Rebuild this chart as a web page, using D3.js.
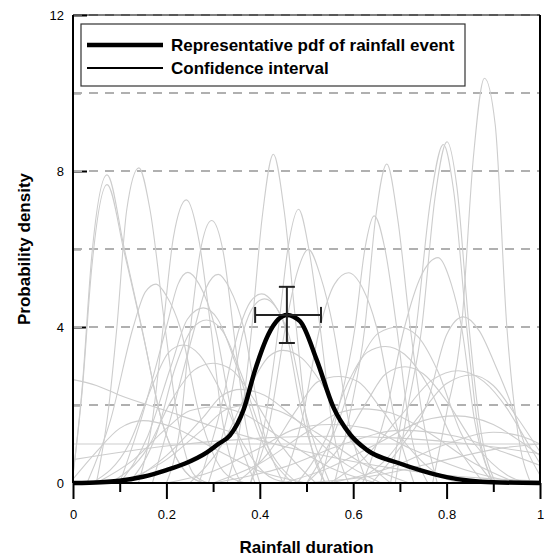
<!DOCTYPE html>
<meta charset="utf-8">
<style>
  body { margin: 0; background: #fff; }
  text { font-family: "Liberation Sans", Arial, sans-serif; }
</style>
<body>
<script src="https://d3js.org/d3.v7.min.js"></script>
<script>

// tick values
var yMajor = [0, 4, 8, 12],
    yMinor = [2, 6, 10],
    yGrid = [2, 4, 6, 8, 10, 12],
    xMajor = [0, 0.2, 0.4, 0.6, 0.8, 1],
    xMinor = [0.1, 0.3, 0.5, 0.7, 0.9];

var legendLabels = ["Representative pdf of rainfall event", "Confidence interval"];

// representative pdf (thick black line)
var representativePdf = [
  [0, 0], [0.06, 0.02], [0.1, 0.06], [0.15, 0.16], [0.2, 0.33], [0.24, 0.5],
  [0.286, 0.78], [0.311, 1.0], [0.336, 1.22], [0.365, 1.87], [0.39, 2.9],
  [0.418, 3.8], [0.44, 4.2], [0.458, 4.31], [0.486, 4.15], [0.522, 3.15],
  [0.557, 1.96], [0.593, 1.25], [0.629, 0.85], [0.7, 0.5], [0.743, 0.33],
  [0.8, 0.15], [0.85, 0.06], [0.9, 0.02], [1, 0]
];

// confidence interval cross: centre, x range, y range
var ciCentre = [0.458, 4.31],
    ciX = [0.39, 0.531],
    ciY = [3.59, 5.03];

// the individual event pdfs (grey lines)
var eventPdfs = [
  [[0,0.2],[0.02,2.5],[0.04,5.8],[0.073,7.9],[0.11,6.0],[0.147,4.0],[0.19,1.6],[0.24,0.3],[0.28,0]],
  [[0,0.2],[0.02,2.4],[0.04,5.5],[0.073,7.65],[0.11,5.9],[0.15,3.8],[0.19,1.6],[0.24,0.3],[0.28,0]],
  [[0.05,0],[0.075,1.8],[0.094,4.0],[0.115,7.0],[0.141,8.08],[0.165,7.0],[0.197,4.0],[0.225,1.6],[0.26,0.2],[0.29,0]],
  [[0.14,0],[0.17,1.6],[0.193,4.0],[0.215,6.3],[0.243,7.26],[0.27,6.2],[0.295,4.0],[0.32,1.6],[0.36,0]],
  [[0.2,0],[0.23,1.5],[0.25,3.8],[0.272,5.9],[0.297,6.73],[0.322,5.9],[0.345,3.8],[0.37,1.5],[0.4,0]],
  [[0.03,0],[0.08,1.6],[0.129,4.0],[0.155,4.9],[0.178,5.1],[0.2,4.8],[0.229,4.0],[0.27,1.8],[0.33,0.2],[0.37,0]],
  [[0.1,0],[0.15,1.8],[0.2,4.0],[0.225,5.1],[0.246,5.4],[0.27,5.1],[0.304,4.0],[0.34,1.8],[0.39,0]],
  [[0.17,0],[0.21,1.7],[0.261,4.0],[0.285,5.0],[0.311,5.35],[0.335,5.0],[0.365,4.0],[0.4,1.7],[0.45,0]],
  [[0.33,0],[0.36,1.6],[0.383,4.0],[0.405,6.8],[0.429,8.43],[0.452,7.0],[0.478,4.0],[0.5,1.6],[0.54,0]],
  [[0.38,0],[0.41,1.5],[0.44,4.0],[0.46,6.0],[0.483,7.02],[0.505,6.0],[0.529,4.0],[0.555,1.5],[0.59,0]],
  [[0.38,0],[0.42,1.5],[0.455,4.0],[0.48,5.4],[0.504,5.99],[0.53,5.3],[0.557,4.0],[0.59,1.6],[0.63,0]],
  [[0.45,0],[0.49,1.6],[0.529,4.0],[0.56,5.1],[0.59,5.39],[0.62,5.0],[0.65,4.0],[0.69,1.6],[0.73,0]],
  [[0.53,0],[0.56,1.5],[0.604,4.0],[0.625,6.0],[0.645,6.85],[0.668,6.0],[0.693,4.0],[0.72,1.5],[0.76,0]],
  [[0.56,0],[0.59,1.6],[0.625,4.0],[0.648,6.8],[0.672,8.18],[0.695,6.8],[0.722,4.0],[0.75,1.6],[0.78,0]],
  [[0.62,0],[0.67,1.8],[0.71,4.0],[0.745,5.3],[0.782,5.78],[0.81,5.1],[0.832,4.0],[0.86,1.6],[0.9,0]],
  [[0.68,0],[0.705,1.8],[0.735,4.0],[0.765,7.2],[0.793,8.68],[0.815,7.5],[0.843,4.0],[0.865,1.6],[0.9,0]],
  [[0.69,0],[0.715,1.8],[0.747,4.0],[0.775,7.3],[0.801,8.75],[0.822,7.6],[0.848,4.0],[0.87,1.6],[0.905,0]],
  [[0.77,0],[0.8,1.8],[0.832,4.0],[0.857,8.3],[0.881,10.38],[0.904,9.2],[0.929,4.0],[0.95,1.5],[0.98,0]],
  [[0.1,0],[0.16,1.2],[0.21,3.0],[0.245,4.2],[0.279,4.49],[0.31,4.2],[0.35,3.0],[0.4,1.2],[0.47,0]],
  [[0.12,0],[0.18,1.3],[0.22,3.0],[0.255,3.95],[0.286,4.18],[0.32,3.9],[0.36,2.8],[0.41,1.1],[0.48,0]],
  [[0.27,0],[0.31,1.6],[0.357,4.0],[0.38,4.65],[0.404,4.85],[0.43,4.6],[0.454,4.0],[0.49,1.8],[0.54,0]],
  [[0.29,0],[0.33,1.7],[0.365,3.9],[0.388,4.55],[0.41,4.72],[0.435,4.5],[0.462,3.8],[0.5,1.7],[0.55,0]],
  [[0.04,0],[0.12,1.0],[0.17,2.5],[0.205,3.35],[0.236,3.54],[0.27,3.3],[0.31,2.5],[0.36,1.1],[0.43,0.1],[0.47,0]],
  [[0.08,0],[0.16,0.9],[0.21,2.1],[0.26,2.9],[0.3,3.07],[0.34,2.9],[0.39,2.1],[0.45,0.9],[0.52,0]],
  [[0.5,0],[0.56,1.3],[0.61,3.0],[0.655,3.85],[0.697,4.0],[0.735,3.8],[0.78,2.9],[0.83,1.3],[0.9,0]],
  [[0.48,0],[0.54,1.1],[0.59,2.6],[0.63,3.35],[0.669,3.5],[0.71,3.3],[0.76,2.5],[0.81,1.2],[0.88,0]],
  [[0.64,0],[0.7,0.9],[0.757,2.0],[0.8,3.8],[0.836,4.26],[0.87,3.9],[0.905,3.0],[0.939,2.0],[0.97,0.9],[1,0.2]],
  [[0.55,0],[0.62,0.6],[0.7,1.7],[0.77,2.65],[0.825,2.88],[0.88,2.6],[0.93,1.9],[0.97,1.1],[1,0.5]],
  [[0.6,0],[0.67,0.6],[0.74,1.7],[0.8,2.55],[0.854,2.77],[0.9,2.5],[0.95,1.7],[1,0.8]],
  [[0.5,0],[0.57,0.9],[0.63,2.1],[0.67,2.8],[0.711,2.98],[0.75,2.8],[0.8,2.1],[0.86,1.0],[0.93,0.2],[0.97,0]],
  [[0.35,0],[0.42,0.8],[0.48,1.9],[0.525,2.6],[0.569,2.73],[0.61,2.6],[0.66,1.9],[0.72,0.9],[0.8,0.1],[0.84,0]],
  [[0.45,0],[0.55,0.4],[0.65,1.0],[0.75,1.6],[0.82,1.72],[0.9,1.5],[0.96,1.05],[1,0.7]],
  [[0,2.65],[0.05,2.5],[0.1,2.25],[0.2,1.85],[0.3,1.45],[0.4,1.1],[0.5,0.8],[0.6,0.55],[0.7,0.35],[0.8,0.2],[1,0.05]],
  [[0,1],[1,1]],
  [[0,0.6],[0.2,0.95],[0.4,1.15],[0.55,1.2],[0.7,1.15],[0.85,1.0],[1,0.75]],
  [[0.25,0],[0.32,1.0],[0.38,2.5],[0.42,3.25],[0.45,3.4],[0.49,3.2],[0.54,2.4],[0.6,1.0],[0.68,0]],
  [[0.1,0],[0.2,0.6],[0.28,1.4],[0.33,1.9],[0.38,2.0],[0.44,1.85],[0.52,1.3],[0.62,0.5],[0.72,0]],
  [[0,0.1],[0.05,0.8],[0.1,1.4],[0.15,1.6],[0.21,1.45],[0.3,0.9],[0.4,0.3],[0.5,0]],
  [[0.3,0],[0.4,0.5],[0.5,1.3],[0.57,1.8],[0.62,1.9],[0.68,1.8],[0.76,1.3],[0.86,0.5],[0.95,0]],
  [[0.2,0],[0.3,0.3],[0.4,0.9],[0.48,1.4],[0.55,1.5],[0.63,1.4],[0.72,0.9],[0.85,0.3],[0.95,0]],
  [[0.05,0],[0.13,0.6],[0.2,1.4],[0.25,1.85],[0.3,1.95],[0.36,1.8],[0.44,1.2],[0.55,0.4],[0.65,0]],
  [[0.3,0],[0.45,0.4],[0.58,1.0],[0.7,1.35],[0.82,1.2],[0.92,0.8],[1,0.45]],
  [[0.55,0],[0.68,0.4],[0.8,1.0],[0.9,1.3],[0.96,1.2],[1,1.0]],
  [[0.5,0],[0.65,0.2],[0.8,0.6],[0.92,0.9],[1,1.0]],
  [[0.12,0],[0.2,0.7],[0.28,1.7],[0.32,2.25],[0.36,2.4],[0.41,2.25],[0.48,1.6],[0.57,0.6],[0.66,0]]
];

var margin = {top: 15, right: 4, bottom: 74, left: 73},
    width = 544 - margin.left - margin.right,
    height = 557 - margin.top - margin.bottom;

var x = d3.scaleLinear().domain([0, 1]).range([0, width]);
var y = d3.scaleLinear().domain([0, 12]).range([height, 0]);

var svg = d3.select("body").append("svg")
    .attr("width", 544)
    .attr("height", 557)
  .append("g")
    .attr("transform", "translate(" + margin.left + "," + margin.top + ")");

svg.append("clipPath").attr("id", "clip")
  .append("rect").attr("width", width).attr("height", height);

// y ticks drawn inward, minor shorter
svg.append("g")
    .call(d3.axisRight(y).tickValues(yMajor).tickSize(14).tickFormat(""))
    .call(function(g) { g.select(".domain").remove(); })
    .selectAll("line").attr("stroke", "#000").attr("stroke-width", 2);
svg.append("g")
    .call(d3.axisRight(y).tickValues(yMinor).tickSize(8).tickFormat(""))
    .call(function(g) { g.select(".domain").remove(); })
    .selectAll("line").attr("stroke", "#000").attr("stroke-width", 1.5);

// dashed grid
svg.append("g").selectAll("line")
    .data(yGrid)
  .enter().append("line")
    .attr("x1", 0).attr("x2", width)
    .attr("y1", function(d) { return y(d); })
    .attr("y2", function(d) { return y(d); })
    .attr("stroke", "#b0b0b0")
    .attr("stroke-width", 2)
    .attr("stroke-dasharray", "9,7");

var line = d3.line()
    .x(function(d) { return x(d[0]); })
    .y(function(d) { return y(d[1]); })
    .curve(d3.curveMonotoneX);

// grey event pdfs
svg.append("g").attr("clip-path", "url(#clip)")
  .selectAll("path")
    .data(eventPdfs)
  .enter().append("path")
    .attr("d", line)
    .attr("fill", "none")
    .attr("stroke", "#cdcdcd")
    .attr("stroke-width", 1.1);

// frame: top and right
svg.append("line").attr("x1", 0).attr("x2", width).attr("y1", 0).attr("y2", 0)
    .attr("stroke", "#000").attr("stroke-width", 1);
svg.append("line").attr("x1", width).attr("x2", width).attr("y1", 0).attr("y2", height)
    .attr("stroke", "#000").attr("stroke-width", 2);

// y labels
svg.append("g").selectAll("text")
    .data(yMajor)
  .enter().append("text")
    .attr("x", -9)
    .attr("y", function(d) { return y(d); })
    .attr("dy", "0.35em")
    .attr("text-anchor", "end")
    .attr("font-size", 13)
    .text(function(d) { return d; });

// x axis
var xAxis = svg.append("g").attr("transform", "translate(0," + height + ")");
xAxis.call(d3.axisBottom(x).tickValues(xMajor).tickSize(16).tickPadding(11)
      .tickFormat(function(d) { return d; }))
    .call(function(g) { g.select(".domain").remove(); });
xAxis.selectAll("line").attr("stroke", "#000").attr("stroke-width", 2);
xAxis.selectAll("text").attr("font-size", 13).attr("fill", "#000")
    .style("font-family", "'Liberation Sans', Arial, sans-serif");
svg.append("g").attr("transform", "translate(0," + height + ")")
    .call(d3.axisBottom(x).tickValues(xMinor).tickSize(9).tickFormat(""))
    .call(function(g) { g.select(".domain").remove(); })
    .selectAll("line").attr("stroke", "#000").attr("stroke-width", 2);

// left and bottom axis lines
svg.append("line").attr("x1", 0).attr("x2", 0).attr("y1", 0).attr("y2", height)
    .attr("stroke", "#000").attr("stroke-width", 2);
svg.append("line").attr("x1", 0).attr("x2", width).attr("y1", height).attr("y2", height)
    .attr("stroke", "#000").attr("stroke-width", 2);

// representative pdf
svg.append("path")
    .datum(representativePdf)
    .attr("d", line)
    .attr("fill", "none")
    .attr("stroke", "#000")
    .attr("stroke-width", 4.5)
    .attr("stroke-linejoin", "round");

// confidence interval cross
var ci = svg.append("g").attr("stroke", "#222").attr("stroke-width", 2);
ci.append("line")
    .attr("x1", x(ciCentre[0])).attr("x2", x(ciCentre[0]))
    .attr("y1", y(ciY[0])).attr("y2", y(ciY[1]));
ci.append("line")
    .attr("x1", x(ciX[0])).attr("x2", x(ciX[1]))
    .attr("y1", y(ciCentre[1])).attr("y2", y(ciCentre[1]));
ciY.forEach(function(v) {
  ci.append("line")
      .attr("x1", x(ciCentre[0]) - 8).attr("x2", x(ciCentre[0]) + 8)
      .attr("y1", y(v)).attr("y2", y(v));
});
ciX.forEach(function(v) {
  ci.append("line")
      .attr("x1", x(v)).attr("x2", x(v))
      .attr("y1", y(ciCentre[1]) - 8).attr("y2", y(ciCentre[1]) + 8);
});

// legend
var legend = svg.append("g").attr("transform", "translate(8,9)");
legend.append("rect")
    .attr("width", 384).attr("height", 62)
    .attr("fill", "#fff")
    .attr("stroke", "#333")
    .attr("stroke-width", 1.2);
legend.selectAll(".lg")
    .data(legendLabels)
  .enter().append("g")
    .attr("transform", function(d, i) { return "translate(0," + (21 + i * 23) + ")"; })
    .each(function(d, i) {
      var g = d3.select(this);
      g.append("line").attr("x1", 6).attr("x2", 82)
          .attr("stroke", "#000").attr("stroke-width", i == 0 ? 4.7 : 2);
      g.append("text").attr("x", 90).attr("dy", "0.36em")
          .attr("font-size", 17).attr("font-weight", "bold")
          .text(d);
    });

// axis titles
svg.append("text")
    .attr("x", width / 2)
    .attr("y", height + 70)
    .attr("text-anchor", "middle")
    .attr("font-size", 17).attr("font-weight", "bold")
    .text("Rainfall duration");

svg.append("text")
    .attr("transform", "translate(-43," + (height / 2) + ") rotate(-90)")
    .attr("text-anchor", "middle")
    .attr("font-size", 17).attr("font-weight", "bold")
    .text("Probability density");

</script>
</body>
